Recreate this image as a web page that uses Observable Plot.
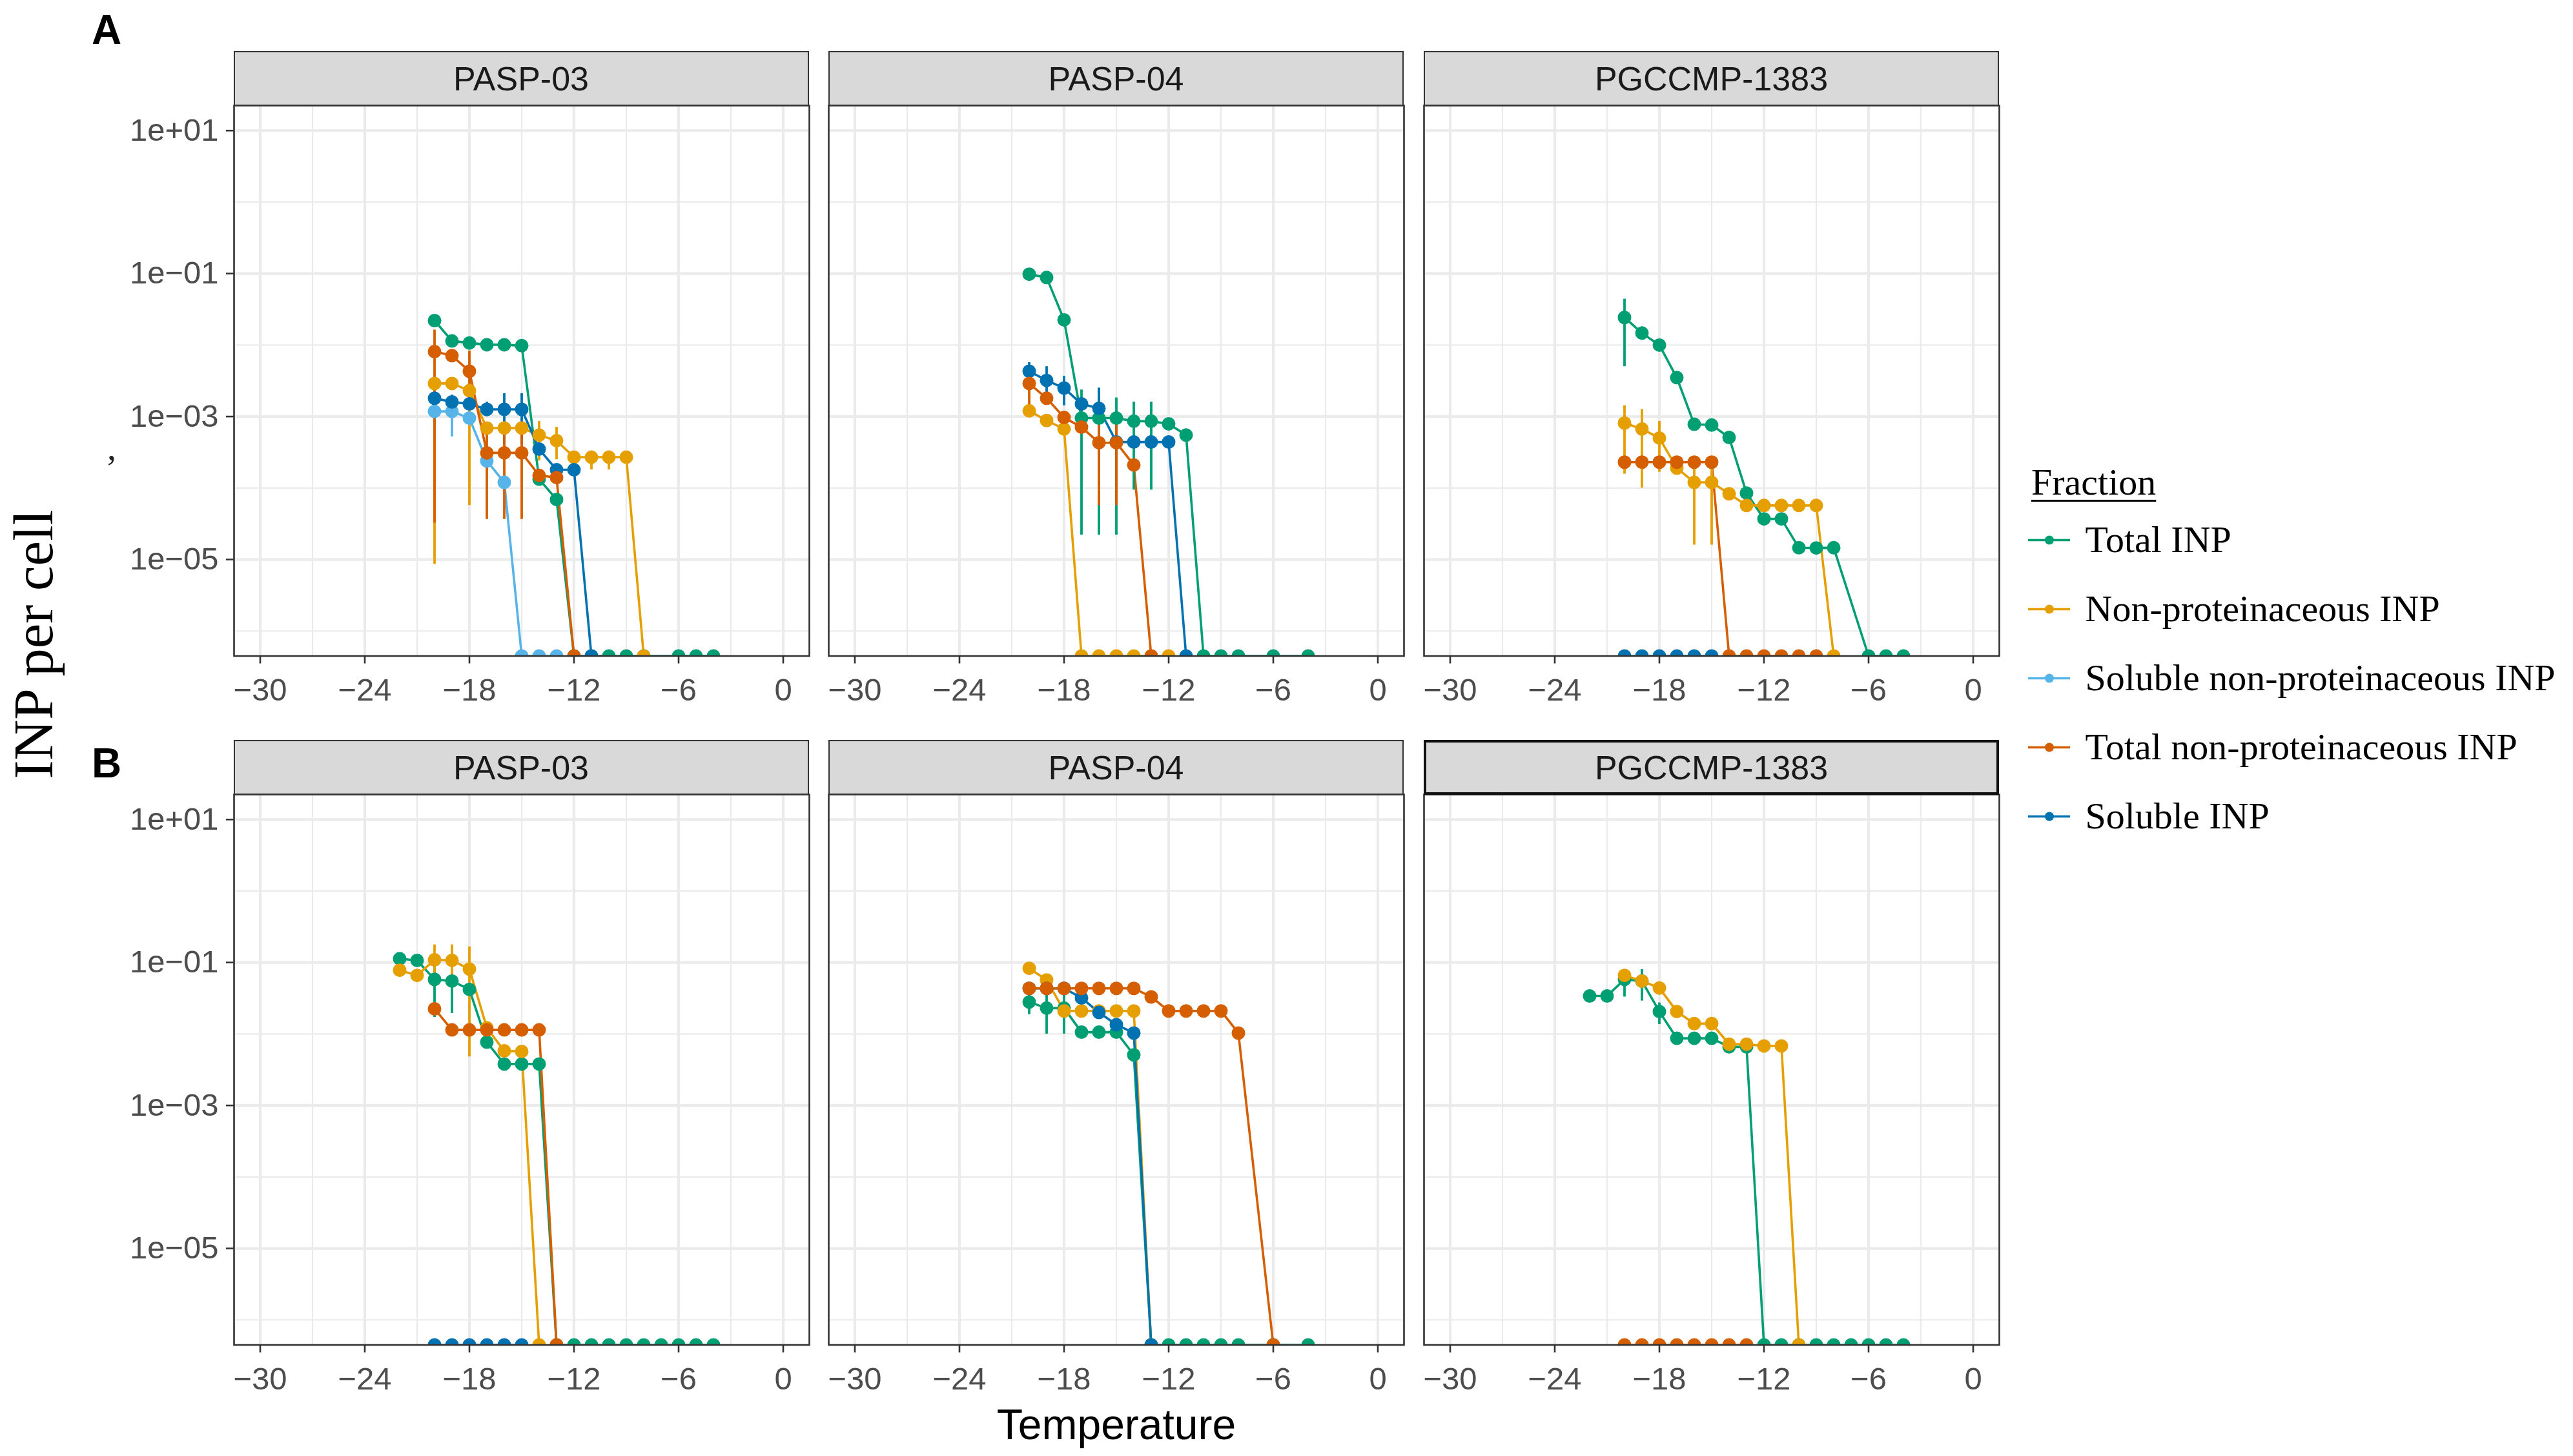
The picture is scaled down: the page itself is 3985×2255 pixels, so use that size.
<!DOCTYPE html>
<html>
<head>
<meta charset="utf-8">
<script src="https://cdn.jsdelivr.net/npm/d3@7"></script>
<script src="https://cdn.jsdelivr.net/npm/@observablehq/plot@0.6"></script>
<style>
  body { margin: 0; background: #fff; }
  #fig { position: relative; width: 3985px; height: 2255px; background: #fff; overflow: hidden;
         font-family: "Liberation Sans", Arial, Helvetica, sans-serif; }
  #fig svg { position: absolute; overflow: visible; }
  .strip { position: absolute; box-sizing: border-box; background: #D9D9D9; border: 2.5px solid #333;
           display: flex; align-items: center; justify-content: center; font-size: 52px; color: #1a1a1a; line-height: 1; }
  .lbl { position: absolute; line-height: 1; white-space: nowrap; }
</style>
</head>
<body>
<div id="fig"></div>
<script>
// ---------------- data ----------------
const fractions = ["Total INP", "Non-proteinaceous INP", "Soluble non-proteinaceous INP", "Total non-proteinaceous INP", "Soluble INP"];
const fractionColors = ["#009E73", "#E69F00", "#56B4E9", "#D55E00", "#0072B2"];
const drawOrder = [0, 1, 2, 4, 3];
const strains = ["PASP-03", "PASP-04", "PGCCMP-1383"];
const rowLetters = ["A", "B"];
const xTicks = [-30, -24, -18, -12, -6, 0];
const xMinor = [-27, -21, -15, -9, -3];
const yTicks = [1e1, 1e-1, 1e-3, 1e-5];
const yMinor = [1e0, 1e-2, 1e-4, 1e-6];

// INP per cell, one value per 1 °C step from the start temperature (0 = none detected, null = not measured)
// Row A, PASP-03 (start -20)
const a1Total      = [0.022, 0.0114, 0.0107, 0.0101, 0.0101, 0.0098, 1.33e-4, 6.9e-5, 0, 0, 0, 0, 0, null, 0, 0, 0];
const a1NonProt    = [2.9e-3, 2.9e-3, 2.3e-3, 6.9e-4, 6.9e-4, 6.9e-4, 5.5e-4, 4.6e-4, 2.7e-4, 2.7e-4, 2.7e-4, 2.7e-4, 0];
const a1SolNonProt = [1.18e-3, 1.18e-3, 9.5e-4, 2.4e-4, 1.2e-4, 0, 0, 0];
const a1TotNonProt = [8.1e-3, 7.1e-3, 4.3e-3, 3.1e-4, 3.1e-4, 3.1e-4, 1.5e-4, 1.4e-4, 0];
const a1Soluble    = [1.8e-3, 1.6e-3, 1.5e-3, 1.26e-3, 1.26e-3, 1.26e-3, 3.5e-4, 1.8e-4, 1.8e-4, 0];
// Row A, PASP-04 (start -20)
const a2Total      = [0.098, 0.088, 0.0225, 9.5e-4, 9.5e-4, 9.5e-4, 8.6e-4, 8.6e-4, 7.9e-4, 5.5e-4, 0, 0, 0, null, 0, null, 0];
const a2NonProt    = [1.2e-3, 8.8e-4, 6.7e-4, 0, 0, 0, 0, 0, 0];
const a2TotNonProt = [2.9e-3, 1.8e-3, 9.7e-4, 7.1e-4, 4.3e-4, 4.3e-4, 2.1e-4, 0];
const a2Soluble    = [4.3e-3, 3.2e-3, 2.5e-3, 1.5e-3, 1.3e-3, 4.4e-4, 4.4e-4, 4.4e-4, 4.4e-4, 0];
// Row A, PGCCMP-1383 (start -20)
const a3Total      = [0.0243, 0.0147, 0.01, 3.5e-3, 7.8e-4, 7.6e-4, 5.1e-4, 8.5e-5, 3.7e-5, 3.7e-5, 1.46e-5, 1.45e-5, 1.46e-5, null, 0, 0, 0];
const a3NonProt    = [8.1e-4, 6.7e-4, 5.0e-4, 1.9e-4, 1.2e-4, 1.2e-4, 8.3e-5, 5.7e-5, 5.7e-5, 5.7e-5, 5.7e-5, 5.7e-5, 0];
const a3TotNonProt = [2.3e-4, 2.3e-4, 2.3e-4, 2.3e-4, 2.3e-4, 2.3e-4, 0, 0, 0, 0, 0, 0];
const a3Soluble    = [0, 0, 0, 0, 0, 0];
// Row B, PASP-03 (total/non-prot start -22, others -20)
const b1Total      = [0.113, 0.107, 0.058, 0.055, 0.042, 7.7e-3, 3.8e-3, 3.8e-3, 3.8e-3, 0, 0, 0, 0, 0, 0, 0, 0, 0, 0];
const b1NonProt    = [0.078, 0.066, 0.109, 0.107, 0.081, 0.0122, 5.8e-3, 5.7e-3, 0];
const b1TotNonProt = [0.0225, 0.0114, 0.0114, 0.0114, 0.0114, 0.0114, 0.0114, 0];
const b1Soluble    = [0, 0, 0, 0, 0, 0];
// Row B, PASP-04 (start -20)
const b2Total      = [0.028, 0.023, 0.023, 0.0106, 0.0106, 0.0106, 5.1e-3, 0, 0, 0, 0, 0, 0, null, 0, null, 0];
const b2NonProt    = [0.083, 0.057, 0.021, 0.021, 0.021, 0.021, 0.021, 0];
const b2TotNonProt = [0.0435, 0.0435, 0.0435, 0.0435, 0.0435, 0.0435, 0.0435, 0.033, 0.021, 0.021, 0.021, 0.021, 0.0103, null, 0];
const b2Soluble    = [0.0435, 0.0435, 0.0435, 0.032, 0.02, 0.0135, 0.0103, 0];
// Row B, PGCCMP-1383 (total start -22, others -20)
const b3Total      = [0.034, 0.034, 0.058, 0.055, 0.0206, 8.7e-3, 8.7e-3, 8.7e-3, 6.6e-3, 6.6e-3, 0, 0, 0, 0, 0, 0, 0, 0, 0];
const b3NonProt    = [0.066, 0.055, 0.044, 0.0206, 0.014, 0.014, 7.2e-3, 7.2e-3, 6.8e-3, 6.8e-3, 0];
const b3TotNonProt = [0, 0, 0, 0, 0, 0, 0, 0];

// error bars: [fraction index, temperature, low, high]
const a1Err = [[1,-20,8.6e-6,3.4e-3],[1,-18,5.7e-5,2.67e-3],[1,-14,2.4e-4,8.6e-4],[1,-13,2.5e-4,7.1e-4],[1,-11,1.8e-4,3.1e-4],[1,-10,1.8e-4,3.1e-4],
  [2,-20,4.9e-4,1.42e-3],[2,-19,5.2e-4,1.42e-3],
  [3,-20,3.24e-5,0.0163],[3,-18,1.42e-3,8.3e-3],[3,-17,3.66e-5,7e-4],[3,-16,3.66e-5,7e-4],[3,-15,3.66e-5,7e-4],
  [4,-20,1.4e-3,2.2e-3],[4,-19,1.25e-3,2.0e-3],[4,-17,1.0e-3,1.6e-3],[4,-16,4.06e-4,2.1e-3],[4,-15,4.06e-4,2.1e-3]];
const a2Err = [[0,-17,2.2e-5,2.36e-3],[0,-16,2.2e-5,2.5e-3],[0,-15,2.2e-5,1.83e-3],[0,-14,9.4e-5,1.6e-3],[0,-13,9.4e-5,1.6e-3],
  [3,-20,1.26e-3,3.66e-3],[3,-16,5.7e-5,8.07e-4],[3,-15,5.7e-5,8.07e-4],
  [4,-20,3.44e-3,5.7e-3],[4,-19,2.09e-3,5.0e-3],[4,-18,1.42e-3,3.66e-3],[4,-16,1.67e-4,2.5e-3]];
const a3Err = [[0,-20,5.0e-3,0.044],[1,-20,1.57e-4,1.42e-3],[1,-19,1.0e-4,1.26e-3],[1,-18,1.67e-4,8.6e-4],[1,-16,1.6e-5,2.4e-4],[1,-15,1.6e-5,2.4e-4]];
const b1Err = [[0,-20,0.0171,0.1],[0,-19,0.0194,0.064],[1,-20,0.05,0.177],[1,-19,0.047,0.177],[1,-18,4.8e-3,0.166]];
const b2Err = [[0,-20,0.0187,0.0398],[0,-19,0.01,0.0398],[0,-18,0.01,0.0398]];
const b3Err = [[0,-20,0.033,0.0748],[0,-19,0.029,0.08],[0,-18,0.0136,0.0273]];

// panel table: [row, column, list of [fraction index, start temperature, values], errors]
const panelDefs = [
  [0, 0, [[0,-20,a1Total],[1,-20,a1NonProt],[2,-20,a1SolNonProt],[3,-20,a1TotNonProt],[4,-20,a1Soluble]], a1Err],
  [0, 1, [[0,-20,a2Total],[1,-20,a2NonProt],[3,-20,a2TotNonProt],[4,-20,a2Soluble]], a2Err],
  [0, 2, [[0,-20,a3Total],[1,-20,a3NonProt],[3,-20,a3TotNonProt],[4,-20,a3Soluble]], a3Err],
  [1, 0, [[0,-22,b1Total],[1,-22,b1NonProt],[3,-20,b1TotNonProt],[4,-20,b1Soluble]], b1Err],
  [1, 1, [[0,-20,b2Total],[1,-20,b2NonProt],[3,-20,b2TotNonProt],[4,-20,b2Soluble]], b2Err],
  [1, 2, [[0,-22,b3Total],[1,-20,b3NonProt],[3,-20,b3TotNonProt]], b3Err]
];

// ---------------- layout ----------------
const colLeft = [361.5, 1283, 2205];
const panelTop = [163, 1230];
const stripTop = [79, 1146];
const PW = 891, PH = 852.5, STRIP_H = 84;
const YMIN = Math.pow(10, -6.35), YMAX = Math.pow(10, 1.35);
const SANS = "'Liberation Sans', Arial, Helvetica, sans-serif";
const SERIF = "'Liberation Serif', 'Times New Roman', Times, serif";

const fmtX = d => d < 0 ? "\u2212" + Math.abs(d) : String(d);
const fmtY = d => { const e = Math.round(Math.log10(d)); return "1e" + (e < 0 ? "\u2212" : "+") + String(Math.abs(e)).padStart(2, "0"); };
const rank = fi => drawOrder.indexOf(fi);

const fig = document.getElementById("fig");

function addLabel(text, css) {
  const el = document.createElement("div");
  el.className = "lbl";
  el.textContent = text;
  Object.assign(el.style, css);
  fig.appendChild(el);
  return el;
}

for (const [r, c, seriesList, errs] of panelDefs) {
  const pts = [];
  for (const [fi, start, vals] of seriesList.slice().sort((a, b) => rank(a[0]) - rank(b[0]))) {
    vals.forEach((v, i) => {
      if (v !== null) pts.push({fraction: fractions[fi], t: start + i, v, y: v > 0 ? v : YMIN});
    });
  }
  const bars = errs.slice().sort((a, b) => rank(a[0]) - rank(b[0])).map(([fi, t, lo, hi]) => ({fraction: fractions[fi], t, lo, hi}));

  const ml = c === 0 ? 250 : 8, mr = 8, mt = 8, mb = 130;
  const marks = [
    Plot.ruleX(xMinor, {stroke: "#EBEBEB", strokeWidth: 2.2}),
    Plot.ruleY(yMinor, {stroke: "#EBEBEB", strokeWidth: 2.2}),
    Plot.ruleX(xTicks, {stroke: "#EBEBEB", strokeWidth: 4.2}),
    Plot.ruleY(yTicks, {stroke: "#EBEBEB", strokeWidth: 4.2}),
    Plot.line(pts, {x: "t", y: "y", z: "fraction", stroke: "fraction", strokeWidth: 3.6, clip: true}),
    Plot.ruleX(bars, {x: "t", y1: "lo", y2: "hi", stroke: "fraction", strokeWidth: 3.8, clip: true}),
    Plot.dot(pts, {x: "t", y: "y", fill: "fraction", r: 10.5, clip: true}),
    Plot.frame({stroke: "#333", strokeWidth: 2.6}),
    Plot.axisX(xTicks, {tickSize: 12, tickPadding: 22, tickFormat: fmtX, stroke: "#333", strokeWidth: 2.6,
                        fill: "#4d4d4d", fontSize: 49, fontFamily: SANS, label: null})
  ];
  if (c === 0) {
    marks.push(Plot.axisY(yTicks, {tickSize: 12, tickPadding: 12, tickFormat: fmtY, stroke: "#333", strokeWidth: 2.6,
                                   fill: "#4d4d4d", fontSize: 49, fontFamily: SANS, label: null}));
  }
  const yOpts = {type: "log", domain: [YMIN, YMAX]};
  if (c !== 0) yOpts.axis = null;
  const svg = Plot.plot({
    width: PW + ml + mr, height: PH + mt + mb,
    marginLeft: ml, marginRight: mr, marginTop: mt, marginBottom: mb,
    style: {fontFamily: SANS, fontSize: "49px", color: "#4d4d4d", background: "transparent", overflow: "visible"},
    x: {domain: [-31.5, 1.5]},
    y: yOpts,
    color: {domain: fractions, range: fractionColors},
    marks
  });
  svg.style.left = (colLeft[c] - ml) + "px";
  svg.style.top = (panelTop[r] - mt) + "px";
  fig.appendChild(svg);

  // strip
  const strip = document.createElement("div");
  strip.className = "strip";
  strip.textContent = strains[c];
  Object.assign(strip.style, {left: colLeft[c] + "px", top: stripTop[r] + "px", width: PW + "px", height: (STRIP_H + 1) + "px"});
  if (r === 1 && c === 2) { strip.style.border = "4px solid #111"; }
  fig.appendChild(strip);
}

// row letters
addLabel(rowLetters[0], {left: "142px", top: "14px", fontSize: "64px", fontWeight: "bold", color: "#000", fontFamily: SANS});
addLabel(rowLetters[1], {left: "142px", top: "1150px", fontSize: "64px", fontWeight: "bold", color: "#000", fontFamily: SANS});

// small mark near y axis
addLabel(",", {left: "166px", top: "665px", fontSize: "56px", color: "#222", fontFamily: SERIF});

// axis titles
addLabel("INP per cell", {left: "51px", top: "998px", fontSize: "87px", color: "#000", fontFamily: SERIF,
  transform: "translate(-50%, -50%) rotate(-90deg)"});
addLabel("Temperature", {left: "1729px", top: "2173px", fontSize: "66px", color: "#000", fontFamily: SANS,
  transform: "translateX(-50%)"});

// legend
addLabel("Fraction", {left: "3146px", top: "718px", fontSize: "58px", color: "#000", fontFamily: SERIF,
  textDecoration: "underline", textDecorationThickness: "3px", textUnderlineOffset: "8px"});
const legTop = 680;
const leg = Plot.plot({
  width: 885, height: 640, margin: 0,
  style: {background: "transparent", overflow: "visible"},
  x: {domain: [0, 1], range: [41, 106], axis: null},
  y: {type: "point", domain: fractions, range: [155, 584], padding: 0, axis: null},
  color: {domain: fractions, range: fractionColors},
  marks: [
    Plot.ruleY(fractions, {y: d => d, x1: 0, x2: 1, stroke: d => d, strokeWidth: 3.6}),
    Plot.dot(fractions, {y: d => d, x: 0.5, fill: d => d, r: 7}),
    Plot.text(fractions, {y: d => d, x: 1, dx: 23, text: d => d, textAnchor: "start", fontSize: 58,
                          fontFamily: SERIF, fill: "#000"})
  ]
});
leg.style.left = "3100px";
leg.style.top = legTop + "px";
fig.appendChild(leg);
</script>
</body>
</html>
